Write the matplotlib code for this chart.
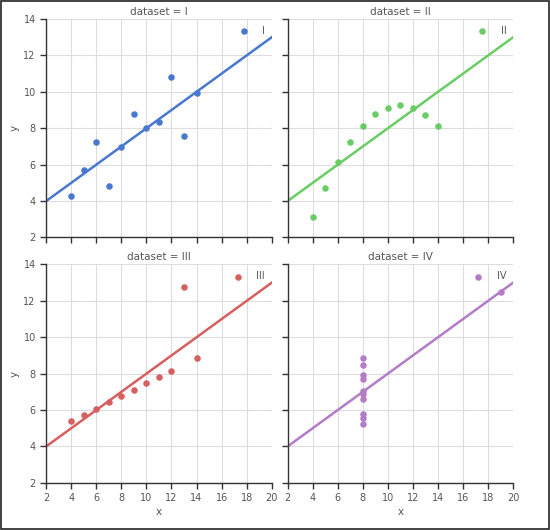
import matplotlib
matplotlib.use("Agg")
import matplotlib.pyplot as plt
import numpy as np

# Anscombe's quartet
x_123 = [10, 8, 13, 9, 11, 14, 6, 4, 12, 7, 5]
x_4 = [8, 8, 8, 8, 8, 8, 8, 19, 8, 8, 8]
y_1 = [8.04, 6.95, 7.58, 8.81, 8.33, 9.96, 7.24, 4.26, 10.84, 4.82, 5.68]
y_2 = [9.14, 8.14, 8.74, 8.77, 9.26, 8.10, 6.13, 3.10, 9.13, 7.26, 4.74]
y_3 = [7.46, 6.77, 12.74, 7.11, 7.81, 8.84, 6.08, 5.39, 8.15, 6.42, 5.73]
y_4 = [6.58, 5.76, 7.71, 8.84, 8.47, 7.04, 5.25, 12.50, 5.56, 7.91, 6.89]
names = ["I", "II", "III", "IV"]
colors = ["#4878cf", "#6acc65", "#d65f5f", "#b47cc7"]

datasets = [(x_123, y_1), (x_123, y_2), (x_123, y_3), (x_4, y_4)]

plt.rcParams['font.family'] = ['DejaVu Sans']
fig = plt.figure(figsize=(5.5, 5.3), dpi=100)

lefts = [0.084, 0.523, 0.084, 0.523]
bottoms = [0.552, 0.552, 0.089, 0.089]
w, h = 0.410, 0.412

txt = "#555555"
for i, (xs, ys) in enumerate(datasets):
    ax = fig.add_axes([lefts[i], bottoms[i], w, h])
    xs = np.array(xs, dtype=float)
    ys = np.array(ys, dtype=float)
    ax.scatter(xs, ys, s=22, color=colors[i], label=names[i], zorder=3, linewidths=0)
    k, b = np.polyfit(xs, ys, 1)  # линия регрессии
    xx = np.array([2, 20])
    ax.plot(xx, k * xx + b, color=colors[i], lw=1.8, zorder=2)
    ax.set_xlim(2, 20)
    ax.set_ylim(2, 14)
    ax.set_xticks(range(2, 21, 2))
    ax.set_yticks(range(2, 15, 2))
    ax.grid(True, color="#dddddd", lw=0.8, zorder=0)
    ax.set_axisbelow(True)
    for s in ["top", "right"]:
        ax.spines[s].set_visible(False)
    for s in ["left", "bottom"]:
        ax.spines[s].set_color("#333333")
        ax.spines[s].set_linewidth(1.0)
    ax.tick_params(labelsize=7, colors="#333333", labelcolor=txt, length=4, width=1)
    if i % 2 == 1:
        ax.set_yticklabels([])
    if i < 2:
        ax.set_xticklabels([])
    else:
        ax.set_xlabel("x", fontsize=7.5, color=txt, labelpad=3)
    if i % 2 == 0:
        ax.set_ylabel("y", fontsize=7.5, color=txt, labelpad=3)
    ax.set_title("dataset = " + names[i], fontsize=7.5, color=txt, pad=3)
    leg = ax.legend(loc="upper right", frameon=False, fontsize=7, handletextpad=0.9,
                    borderaxespad=0.3, markerscale=1.0)
    for t in leg.get_texts():
        t.set_color(txt)

fig.patches.append(plt.Rectangle((0.002, 0.002), 0.996, 0.996, transform=fig.transFigure,
                                 fill=False, edgecolor="#222222", lw=1.2))
fig.savefig("out.png", dpi=100)
